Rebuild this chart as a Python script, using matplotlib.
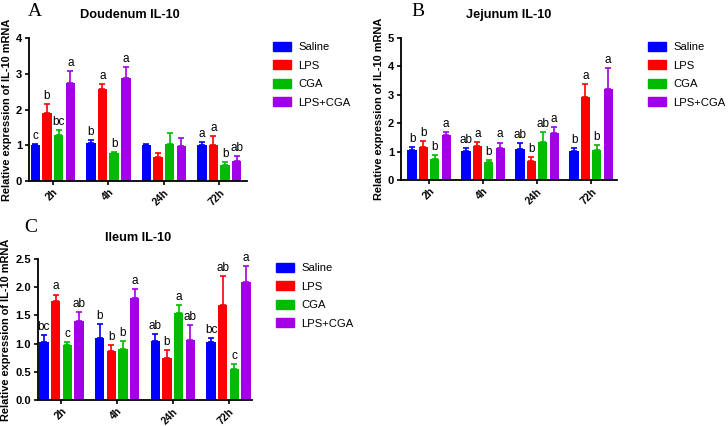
import matplotlib
matplotlib.use("Agg")
import matplotlib.pyplot as plt
from matplotlib.patches import Patch
import numpy as np

plt.rcParams['font.family'] = ['Liberation Sans', 'DejaVu Sans']

times = ["2h", "4h", "24h", "72h"]
groups = ["Saline", "LPS", "CGA", "LPS+CGA"]
colors = ["#0000ff", "#ff0000", "#00bb00", "#a100e6"]

# Doudenum: rows = groups, cols = times
duo_vals = [[1.02, 1.05, 1.02, 1.02],
            [1.90, 2.57, 0.66, 1.02],
            [1.28, 0.77, 1.03, 0.45],
            [2.75, 2.88, 0.98, 0.57]]
duo_err = [[0.02, 0.10, 0.02, 0.07],
           [0.24, 0.15, 0.12, 0.24],
           [0.15, 0.05, 0.30, 0.07],
           [0.32, 0.30, 0.23, 0.14]]
duo_let = [["c", "b", "", "a"],
           ["b", "a", "", "a"],
           ["bc", "b", "", "b"],
           ["a", "a", "", "ab"]]

jej_vals = [[1.05, 1.03, 1.10, 1.03],
            [1.15, 1.20, 0.68, 2.92],
            [0.75, 0.63, 1.33, 1.07],
            [1.60, 1.12, 1.65, 3.22]]
jej_err = [[0.12, 0.08, 0.20, 0.08],
           [0.21, 0.15, 0.13, 0.46],
           [0.12, 0.08, 0.37, 0.15],
           [0.08, 0.20, 0.20, 0.72]]
jej_let = [["b", "ab", "ab", "b"],
           ["b", "a", "b", "a"],
           ["b", "b", "ab", "b"],
           ["a", "a", "a", "a"]]

ile_vals = [[1.03, 1.10, 1.04, 1.02],
            [1.75, 0.86, 0.75, 1.68],
            [0.97, 0.91, 1.55, 0.55],
            [1.40, 1.81, 1.07, 2.09]]
ile_err = [[0.12, 0.24, 0.13, 0.08],
           [0.12, 0.12, 0.14, 0.52],
           [0.05, 0.13, 0.13, 0.08],
           [0.16, 0.15, 0.26, 0.28]]
ile_let = [["bc", "b", "ab", "bc"],
           ["a", "b", "b", "ab"],
           ["c", "b", "a", "c"],
           ["ab", "a", "ab", "a"]]

W, H = 728, 426
fig = plt.figure(figsize=(W / 100, H / 100), dpi=100)


def px_axes(l, t, r, b):
    return fig.add_axes([l / W, 1 - b / H, (r - l) / W, (b - t) / H])


def panel(ax, vals, errs, lets, ymax, yticks, yticklabels, xlim, title, tpos, letter, lpos, legpos):
    x = np.arange(len(times))
    step = 0.21
    bw = 0.17
    for i, g in enumerate(groups):
        xs = x + (i - 1.5) * step
        v = np.array(vals[i])
        e = np.array(errs[i])
        ax.bar(xs, v, width=bw, color=colors[i], edgecolor=colors[i], linewidth=0, zorder=2)
        ax.errorbar(xs, v, yerr=[np.zeros_like(e), e], fmt='none', ecolor=colors[i],
                    elinewidth=1.2, capsize=2.2, capthick=1.2, zorder=1)
        for xi, vi, ei, li in zip(xs, v, e, lets[i]):
            if li:
                ax.annotate(li, (xi, vi + ei), xytext=(0, 1.5), textcoords='offset points',
                            ha='center', va='bottom', fontsize=8.5)
    ax.set_xlim(*xlim)
    ax.set_ylim(0, ymax)
    ax.set_yticks(yticks)
    ax.set_yticklabels(yticklabels, fontsize=8, fontweight='bold')
    ax.set_xticks(x)
    ax.set_xticklabels(times, rotation=45, ha='right', rotation_mode='anchor',
                       fontsize=7.5, fontweight='bold')
    for s in ['top', 'right']:
        ax.spines[s].set_visible(False)
    for s in ['left', 'bottom']:
        ax.spines[s].set_linewidth(1.3)
    ax.tick_params(axis='both', direction='out', length=3, width=1.2, pad=2)
    ax.tick_params(axis='x', pad=1.5)
    ax.set_ylabel("Relative expression of IL-10 mRNA", fontsize=7.9, fontweight='bold', labelpad=3)
    fig.text(tpos[0] / W, 1 - tpos[1] / H, title, ha='center', va='center',
             fontsize=9.2, fontweight='bold')
    fig.text(lpos[0] / W, 1 - lpos[1] / H, letter, ha='left', va='center',
             fontsize=14, family='Liberation Serif')
    handles = [Patch(facecolor=c, edgecolor=c) for c in colors]
    fig.legend(handles, groups, loc='upper left',
               bbox_to_anchor=(legpos[0] / W, 1 - legpos[1] / H),
               frameon=False, fontsize=8.1, handlelength=1.6, handleheight=0.85,
               handletextpad=0.65, labelspacing=0.72, borderpad=0, borderaxespad=0)


axA = px_axes(29, 38, 247, 181)
panel(axA, duo_vals, duo_err, duo_let, 4, [0, 1, 2, 3, 4], ["0", "1", "2", "3", "4"],
      (-0.43, 3.5), "Doudenum IL-10", (130, 15), "A", (28, 11), (273, 42))

axB = px_axes(401, 38, 617, 180)
panel(axB, jej_vals, jej_err, jej_let, 5, [0, 1, 2, 3, 4, 5], ["0", "1", "2", "3", "4", "5"],
      (-0.52, 3.48), "Jejunum IL-10", (509, 15), "B", (411, 11), (648, 42))

axC = px_axes(38, 259, 252, 400)
panel(axC, ile_vals, ile_err, ile_let, 2.5, [0, 0.5, 1.0, 1.5, 2.0, 2.5],
      ["0.0", "0.5", "1.0", "1.5", "2.0", "2.5"],
      (-0.42, 3.42), "Ileum IL-10", (138, 238), "C", (24, 228), (276, 263))

fig.savefig("out.png", dpi=100)
